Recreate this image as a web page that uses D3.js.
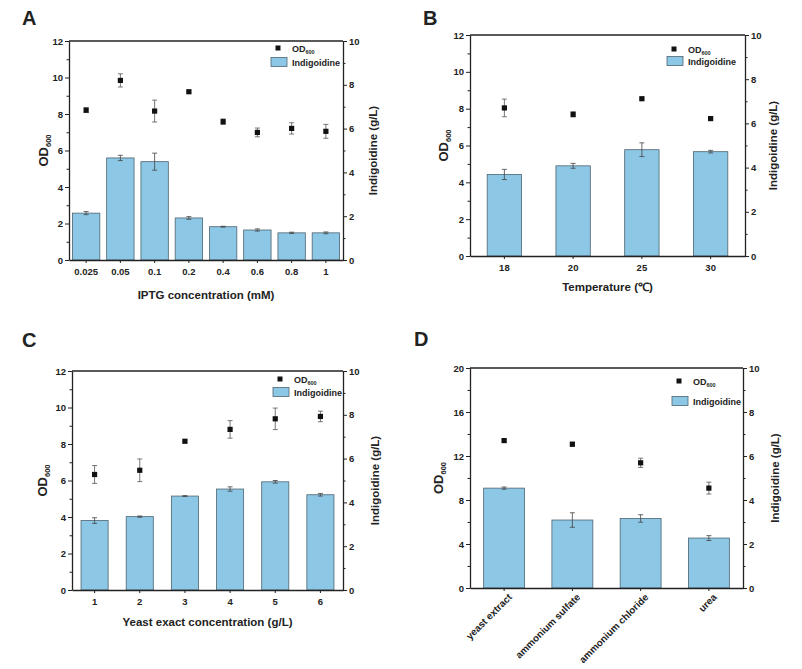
<!DOCTYPE html>
<html>
<head>
<meta charset="utf-8">
<script src="https://cdn.jsdelivr.net/npm/d3@7"></script>
<style>
  body { margin: 0; background: #fff; }
  text { font-family: "Liberation Sans", Arial, sans-serif; font-weight: bold; fill: #222; }
</style>
</head>
<body>
<script>
// panel A: IPTG
const catsA = ['0.025', '0.05', '0.1', '0.2', '0.4', '0.6', '0.8', '1'];
const indigoA = [2.14, 4.66, 4.49, 1.92, 1.52, 1.37, 1.24, 1.24];
const indigoErrA = [0.07, 0.12, 0.39, 0.06, 0.02, 0.05, 0.03, 0.04];
const odA = [8.21, 9.84, 8.16, 9.22, 7.58, 6.99, 7.21, 7.05];
const odErrA = [0.13, 0.36, 0.6, 0.07, 0.15, 0.24, 0.31, 0.38];

// panel B: temperature
const catsB = ['18', '20', '25', '30'];
const indigoB = [3.69, 4.08, 4.81, 4.72];
const indigoErrB = [0.23, 0.11, 0.31, 0.06];
const odB = [8.04, 7.69, 8.54, 7.46];
const odErrB = [0.48, 0.14, 0.05, 0.05];

// panel C: yeast extract concentration
const catsC = ['1', '2', '3', '4', '5', '6'];
const indigoC = [3.17, 3.35, 4.29, 4.61, 4.94, 4.35];
const indigoErrC = [0.13, 0.03, 0.02, 0.1, 0.06, 0.06];
const odC = [6.33, 6.56, 8.15, 8.8, 9.38, 9.51];
const odErrC = [0.49, 0.62, 0.07, 0.48, 0.59, 0.29];

// panel D: nitrogen source
const catsD = ['yeast extract', 'ammonium sulfate', 'ammonium chloride', 'urea'];
const indigoD = [4.54, 3.09, 3.16, 2.27];
const indigoErrD = [0.05, 0.33, 0.17, 0.11];
const odD = [13.4, 13.07, 11.38, 9.08];
const odErrD = [0.12, 0.18, 0.42, 0.54];

const odTicks12 = [0, 2, 4, 6, 8, 10, 12];
const odTicks20 = [0, 4, 8, 12, 16, 20];
const indigoTicks = [0, 2, 4, 6, 8, 10];

const panels = [
  { letter: 'A', lx: 22, ly: 25, left: 69, right: 343, top: 41, bottom: 260,
    cats: catsA, indigo: indigoA, indigoErr: indigoErrA, od: odA, odErr: odErrA,
    odMax: 12, odTicks: odTicks12, pad: 0.2, xTitle: 'IPTG concentration (mM)', xTitleY: 299,
    legX: 278, legY1: 48, legY2: 62, leftTitleX: 43, rightTitleX: 373 },
  { letter: 'B', lx: 423, ly: 25, left: 470, right: 745, top: 35, bottom: 256,
    cats: catsB, indigo: indigoB, indigoErr: indigoErrB, od: odB, odErr: odErrB,
    odMax: 12, odTicks: odTicks12, pad: 0.5, xTitle: 'Temperature (℃)', xTitleY: 291,
    legX: 674, legY1: 49, legY2: 61, leftTitleX: 443, rightTitleX: 773 },
  { letter: 'C', lx: 22, ly: 347, left: 72, right: 343, top: 371, bottom: 590,
    cats: catsC, indigo: indigoC, indigoErr: indigoErrC, od: odC, odErr: odErrC,
    odMax: 12, odTicks: odTicks12, pad: 0.4, xTitle: 'Yeast exact concentration (g/L)', xTitleY: 626,
    legX: 280, legY1: 379, legY2: 392, leftTitleX: 42, rightTitleX: 375 },
  { letter: 'D', lx: 414, ly: 346, left: 470, right: 743, top: 368, bottom: 588,
    cats: catsD, indigo: indigoD, indigoErr: indigoErrD, od: odD, odErr: odErrD,
    odMax: 20, odTicks: odTicks20, pad: 0.4, xTitle: null, rotate: true,
    legX: 679, legY1: 381, legY2: 401, leftTitleX: 438, rightTitleX: 775 }
];

const svg = d3.select('body').append('svg')
  .attr('width', 802).attr('height', 669);

const barFill = '#8cc7e6';
const barStroke = '#4e6470';
const axisColor = '#222';

panels.forEach(drawPanel);

function drawPanel(p) {
  const g = svg.append('g');

  const x = d3.scaleBand()
    .domain(p.cats)
    .range([p.left, p.right])
    .paddingInner(p.pad)
    .paddingOuter(p.pad / 2);

  const yOd = d3.scaleLinear().domain([0, p.odMax]).range([p.bottom, p.top]);
  const yIn = d3.scaleLinear().domain([0, 10]).range([p.bottom, p.top]);

  const rows = p.cats.map((c, i) => ({
    cat: c, indigo: p.indigo[i], indigoErr: p.indigoErr[i], od: p.od[i], odErr: p.odErr[i]
  }));

  // bars
  g.selectAll('rect.bar')
    .data(rows)
    .join('rect')
    .attr('class', 'bar')
    .attr('x', d => x(d.cat))
    .attr('y', d => yIn(d.indigo))
    .attr('width', x.bandwidth())
    .attr('height', d => yIn(0) - yIn(d.indigo))
    .attr('fill', barFill)
    .attr('stroke', barStroke)
    .attr('stroke-width', 0.8);

  const cx = d => x(d.cat) + x.bandwidth() / 2;

  // bar error bars
  const eb = g.selectAll('g.ebar').data(rows).join('g').attr('class', 'ebar')
    .attr('stroke', '#444').attr('stroke-width', 0.8);
  eb.append('line')
    .attr('x1', cx).attr('x2', cx)
    .attr('y1', d => yIn(d.indigo + d.indigoErr))
    .attr('y2', d => yIn(d.indigo - d.indigoErr));
  eb.append('line')
    .attr('x1', d => cx(d) - 2.5).attr('x2', d => cx(d) + 2.5)
    .attr('y1', d => yIn(d.indigo + d.indigoErr)).attr('y2', d => yIn(d.indigo + d.indigoErr));
  eb.append('line')
    .attr('x1', d => cx(d) - 2.5).attr('x2', d => cx(d) + 2.5)
    .attr('y1', d => yIn(d.indigo - d.indigoErr)).attr('y2', d => yIn(d.indigo - d.indigoErr));

  // OD error bars
  const ep = g.selectAll('g.epoint').data(rows).join('g').attr('class', 'epoint')
    .attr('stroke', '#555').attr('stroke-width', 0.8);
  ep.append('line')
    .attr('x1', cx).attr('x2', cx)
    .attr('y1', d => yOd(d.od + d.odErr))
    .attr('y2', d => yOd(d.od - d.odErr));
  ep.append('line')
    .attr('x1', d => cx(d) - 2.5).attr('x2', d => cx(d) + 2.5)
    .attr('y1', d => yOd(d.od + d.odErr)).attr('y2', d => yOd(d.od + d.odErr));
  ep.append('line')
    .attr('x1', d => cx(d) - 2.5).attr('x2', d => cx(d) + 2.5)
    .attr('y1', d => yOd(d.od - d.odErr)).attr('y2', d => yOd(d.od - d.odErr));

  // OD points
  g.selectAll('rect.pt')
    .data(rows)
    .join('rect')
    .attr('class', 'pt')
    .attr('x', d => cx(d) - 2.6)
    .attr('y', d => yOd(d.od) - 2.6)
    .attr('width', 5.2).attr('height', 5.2)
    .attr('fill', '#111');

  // frame top
  g.append('line')
    .attr('x1', p.left).attr('x2', p.right)
    .attr('y1', p.top).attr('y2', p.top)
    .attr('stroke', axisColor).attr('stroke-width', 1.3);

  // left axis
  const odMinor = d3.range(p.odTicks[1] / 2, p.odMax, p.odTicks[1]);
  const leftAx = g.append('g').attr('transform', `translate(${p.left},0)`)
    .call(d3.axisLeft(yOd).tickValues(p.odTicks).tickSize(4).tickPadding(2).tickSizeOuter(0));
  g.append('g').attr('transform', `translate(${p.left},0)`)
    .call(d3.axisLeft(yOd).tickValues(odMinor).tickSize(2.5).tickFormat('').tickSizeOuter(0))
    .select('.domain').remove();

  // right axis
  const inMinor = [1, 3, 5, 7, 9];
  const rightAx = g.append('g').attr('transform', `translate(${p.right},0)`)
    .call(d3.axisRight(yIn).tickValues(indigoTicks).tickSize(4).tickPadding(2).tickSizeOuter(0));
  g.append('g').attr('transform', `translate(${p.right},0)`)
    .call(d3.axisRight(yIn).tickValues(inMinor).tickSize(2.5).tickFormat('').tickSizeOuter(0))
    .select('.domain').remove();

  // bottom axis
  const bottomAx = g.append('g').attr('transform', `translate(0,${p.bottom})`)
    .call(d3.axisBottom(x).tickSize(3).tickPadding(5).tickSizeOuter(0));

  [leftAx, rightAx, bottomAx].forEach(a => {
    a.select('.domain').attr('stroke', axisColor).attr('stroke-width', 1.3);
    a.selectAll('.tick text').attr('font-size', 9.5).attr('fill', '#222');
  });
  g.selectAll('.tick line').attr('stroke', axisColor).attr('stroke-width', 1);

  if (p.rotate) {
    bottomAx.selectAll('.tick text')
      .attr('font-size', 9.8)
      .attr('text-anchor', 'end')
      .attr('dx', '-0.1em')
      .attr('dy', '0.5em')
      .attr('transform', 'rotate(-45)');
  }

  // titles
  const midY = (p.top + p.bottom) / 2;
  const lt = g.append('text')
    .attr('transform', `translate(${p.leftTitleX + 4.5},${midY}) rotate(-90)`)
    .attr('text-anchor', 'middle')
    .attr('font-size', 13);
  lt.append('tspan').text('OD');
  lt.append('tspan').text('600').attr('font-size', 7.5).attr('dy', 3);

  g.append('text')
    .attr('transform', `translate(${p.rightTitleX + 4},${midY}) rotate(-90)`)
    .attr('text-anchor', 'middle')
    .attr('font-size', 11.5)
    .text('Indigoidine (g/L)');

  if (p.xTitle) {
    g.append('text')
      .attr('x', (p.left + p.right) / 2)
      .attr('y', p.xTitleY)
      .attr('text-anchor', 'middle')
      .attr('font-size', 11.5)
      .text(p.xTitle);
  }

  g.append('text')
    .attr('x', p.lx).attr('y', p.ly)
    .attr('font-size', 20)
    .text(p.letter);

  // legend
  g.append('rect')
    .attr('x', p.legX - 2.5).attr('y', p.legY1 - 2.5)
    .attr('width', 5).attr('height', 5)
    .attr('fill', '#111');
  const l1 = g.append('text')
    .attr('x', p.legX + 14).attr('y', p.legY1 + 3.5)
    .attr('font-size', 9);
  l1.append('tspan').text('OD');
  l1.append('tspan').text('600').attr('font-size', 5.5).attr('dy', 2);

  g.append('rect')
    .attr('x', p.legX - 7).attr('y', p.legY2 - 4.5)
    .attr('width', 16).attr('height', 9)
    .attr('fill', barFill)
    .attr('stroke', barStroke)
    .attr('stroke-width', 0.8);
  g.append('text')
    .attr('x', p.legX + 14).attr('y', p.legY2 + 3.5)
    .attr('font-size', 9)
    .text('Indigoidine');
}
</script>
</body>
</html>
